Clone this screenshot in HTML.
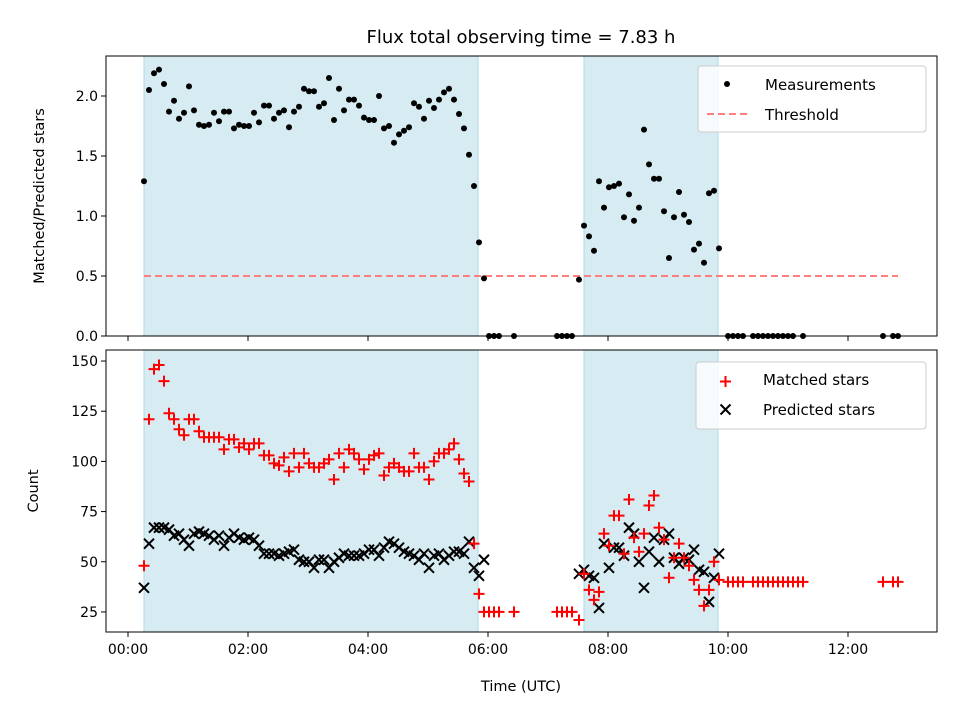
<!DOCTYPE html>
<html><head><meta charset="utf-8"><style>
body{margin:0;background:#fff;}
svg{display:block;font-family:"DejaVu Sans","Liberation Sans",sans-serif;}
</style></head><body>
<svg id="chart" width="960" height="720" viewBox="0 0 960 720" xmlns="http://www.w3.org/2000/svg"></svg>
<script>
// ---- data (time in minutes after 00:00 UTC) ----
const ratioTimes = [16,21,26,31,36,41,46,51,56,61,66,71,76,81,86,91,96,101,106,111,116,121,126,131,136,141,146,151,156,161,166,171,176,181,186,191,196,201,206,211,216,221,226,231,236,241,246,251,256,261,266,271,276,281,286,291,296,301,306,311,316,321,326,331,336,341,346,351,356,361,366,371,386,429,434,439,444,451,456,461,466,471,476,481,486,491,496,501,506,511,516,521,526,531,536,541,546,551,556,561,566,571,576,581,586,591,600,605,610,615,625,630,635,640,645,650,655,660,665,675,755,765,770];
const ratioValues = [1.29,2.05,2.19,2.22,2.10,1.87,1.96,1.81,1.86,2.08,1.88,1.76,1.75,1.76,1.86,1.79,1.87,1.87,1.73,1.76,1.75,1.75,1.86,1.78,1.92,1.92,1.81,1.86,1.88,1.74,1.87,1.91,2.06,2.04,2.04,1.91,1.94,2.15,1.80,2.06,1.88,1.97,1.97,1.92,1.82,1.80,1.80,2.00,1.73,1.75,1.61,1.68,1.71,1.74,1.94,1.91,1.81,1.96,1.90,1.97,2.03,2.06,1.97,1.85,1.73,1.51,1.25,0.78,0.48,0,0,0,0,0,0,0,0,0.47,0.92,0.83,0.71,1.29,1.07,1.24,1.25,1.27,0.99,1.18,0.96,1.07,1.72,1.43,1.31,1.31,1.04,0.65,0.99,1.20,1.01,0.95,0.72,0.77,0.61,1.19,1.21,0.73,0,0,0,0,0,0,0,0,0,0,0,0,0,0,0,0,0];
const threshold = 0.5;
const matchedTimes = [16,21,26,31,36,41,46,51,56,61,66,71,76,81,86,91,96,101,106,111,116,121,126,131,136,141,146,151,156,161,166,171,176,181,186,191,196,201,206,211,216,221,226,231,236,241,246,251,256,261,266,271,276,281,286,291,296,301,306,311,316,321,326,331,336,341,346,351,356,361,366,371,386,429,434,439,444,451,456,461,466,471,476,481,486,491,496,501,506,511,516,521,526,531,536,541,546,551,556,561,566,571,576,581,586,591,600,605,610,615,625,630,635,640,645,650,655,660,665,670,675,755,765,770];
const matchedValues = [48,121,146,148,140,124,121,116,113,121,121,115,112,112,112,112,106,111,111,107,109,106,109,109,103,103,99,98,102,95,104,97,104,99,97,97,99,101,91,104,97,106,104,101,96,101,103,104,93,97,99,97,95,95,104,97,97,91,100,104,104,106,109,101,94,90,59,34,25,25,25,25,25,25,25,25,25,21,44,36,31,35,64,58,73,73,54,81,62,55,64,78,83,67,61,42,52,59,52,48,41,36,28,36,50,41,40,40,40,40,40,40,40,40,40,40,40,40,40,40,40,40,40,40];
const predictedTimes = [16,21,26,31,36,41,46,51,56,61,66,71,76,81,86,91,96,101,106,111,116,121,126,131,136,141,146,151,156,161,166,171,176,181,186,191,196,201,206,211,216,221,226,231,236,241,246,251,256,261,266,271,276,281,286,291,296,301,306,311,316,321,326,331,336,341,346,351,356,451,456,461,466,471,476,481,486,491,496,501,506,511,516,521,526,531,536,541,546,551,556,561,566,571,576,581,586,591];
const predictedValues = [37,59,67,67,67,66,63,64,61,58,64,65,64,63,61,63,58,62,64,62,61,62,61,58,54,54,54,53,54,55,56,51,50,50,47,51,51,47,50,52,54,53,53,53,54,56,56,53,57,60,59,57,55,54,53,51,54,47,53,54,51,53,55,55,54,60,47,43,51,44,46,43,42,27,59,47,57,57,53,67,64,50,37,55,62,50,61,64,52,49,52,51,56,46,45,30,42,54];
const shadeStarts = [16,456];
const shadeEnds = [350,590];
const xTickValues = [0,120,240,360,480,600,720];
const xTickLabels = ["00:00","02:00","04:00","06:00","08:00","10:00","12:00"];
const topTicks = [0,0.5,1.0,1.5,2.0];
const topTickLabels = ["0.0","0.5","1.0","1.5","2.0"];
const botTicks = [25,50,75,100,125,150];
const botTickLabels = ["25","50","75","100","125","150"];

// ---- layout ----
const L=106,R=937,T1=56,B1=336,T2=350,B2=632;
const X0=-22,X1=809;
const x = t => L+(t-X0)/(X1-X0)*(R-L);
const y1 = v => B1-(v-0)/(2.3333-0)*(B1-T1);
const y2 = v => B2-(v-15)/(155.5-15)*(B2-T2);
const svg=document.getElementById('chart');
const NS="http://www.w3.org/2000/svg";
function el(tag,attrs,parent){const e=document.createElementNS(NS,tag);for(const k in attrs)e.setAttribute(k,attrs[k]);(parent||svg).appendChild(e);return e;}
function txt(s,attrs,parent){const e=el('text',attrs,parent);e.textContent=s;return e;}

let t=txt("Flux total observing time = 7.83 h",{x:521,y:43,'font-size':18,'text-anchor':'middle',fill:'#000'});



function panel(T,B,yf,ticks,labels,name){
  const g=el('g',{});
  
  
  for(let i=0;i<shadeStarts.length;i++){
    const r=el('rect',{x:x(shadeStarts[i]),y:T,width:x(shadeEnds[i])-x(shadeStarts[i]),height:B-T,fill:'#add8e6','fill-opacity':0.5,stroke:'#add8e6','stroke-width':1},g);
    
    
  }
  const ya=el('g',{},g);
  
  
  ticks.forEach((v,i)=>{
    const yy=yf(v);
    el('line',{x1:L-5,x2:L,y1:yy,y2:yy,stroke:'#000','stroke-width':1},ya);
    const lb=txt(labels[i],{x:L-8,y:yy+5,'font-size':14,'text-anchor':'end'},ya);
    
    
  });
  const xa=el('g',{},g);
  
  
  xTickValues.forEach((v,i)=>{
    el('line',{x1:x(v),x2:x(v),y1:B,y2:B+5,stroke:'#000','stroke-width':1},xa);
  });
  return g;
}
const p1=panel(T1,B1,y1,topTicks,topTickLabels,'ratio-panel');
const p2=panel(T2,B2,y2,botTicks,botTickLabels,'count-panel');

const th=el('line',{x1:x(ratioTimes[0]),x2:x(ratioTimes[ratioTimes.length-1]),y1:y1(threshold),y2:y1(threshold),stroke:'#ff7f7f','stroke-width':2,'stroke-dasharray':'7,4'},p1);



const mg=el('g',{},p1);


ratioTimes.forEach((tm,i)=>{
  const c=el('circle',{cx:x(tm),cy:y1(ratioValues[i]),r:3,fill:'#000'},mg);
  
  
});

const pg=el('g',{},p2);


predictedTimes.forEach((tm,i)=>{
  const cx=x(tm),cy=y2(predictedValues[i]),s=5;
  const p=el('path',{d:`M${cx-s},${cy-s}L${cx+s},${cy+s}M${cx-s},${cy+s}L${cx+s},${cy-s}`,stroke:'#000','stroke-width':2,fill:'none'},pg);
  
  
});
const rg=el('g',{},p2);


matchedTimes.forEach((tm,i)=>{
  const cx=x(tm),cy=y2(matchedValues[i]),s=5.5;
  const p=el('path',{d:`M${cx-s},${cy}L${cx+s},${cy}M${cx},${cy-s}L${cx},${cy+s}`,stroke:'#ff0000','stroke-width':2,fill:'none'},rg);
  
  
});

[[T1,B1],[T2,B2]].forEach(([T,B])=>{
  const f=el('rect',{x:L,y:T,width:R-L,height:B-T,fill:'none',stroke:'#000','stroke-width':1});
  
  
});

xTickValues.forEach((v,i)=>{
  const lb=txt(xTickLabels[i],{x:x(v),y:B2+22,'font-size':14,'text-anchor':'middle'});
  
  
});
let xl=txt("Time (UTC)",{x:521,y:691,'font-size':14.5,'text-anchor':'middle'});


let yl1=txt("Matched/Predicted stars",{x:0,y:0,'font-size':14.5,'text-anchor':'middle',transform:`translate(44,196) rotate(-90)`});


let yl2=txt("Count",{x:0,y:0,'font-size':14.5,'text-anchor':'middle',transform:`translate(38,491) rotate(-90)`});



const lg1=el('g',{});


el('rect',{x:698,y:66,width:228,height:66,rx:3,fill:'#fff','fill-opacity':0.8,stroke:'#cccccc'},lg1);
el('circle',{cx:727,cy:84,r:3,fill:'#000'},lg1);
txt("Measurements",{x:765,y:90,'font-size':15},lg1);
el('line',{x1:707,x2:748,y1:114,y2:114,stroke:'#ff7f7f','stroke-width':2,'stroke-dasharray':'7,4'},lg1);
txt("Threshold",{x:765,y:120,'font-size':15},lg1);

const lg2=el('g',{});


el('rect',{x:696,y:362,width:230,height:67,rx:3,fill:'#fff','fill-opacity':0.8,stroke:'#cccccc'},lg2);
el('path',{d:'M720,381.5L731,381.5M725.5,376L725.5,387',stroke:'#ff0000','stroke-width':2},lg2);
txt("Matched stars",{x:763,y:385,'font-size':15},lg2);
el('path',{d:'M720.5,404.5L730.5,414.5M720.5,414.5L730.5,404.5',stroke:'#000','stroke-width':2},lg2);
txt("Predicted stars",{x:763,y:415,'font-size':15},lg2);
</script>
</body></html>
